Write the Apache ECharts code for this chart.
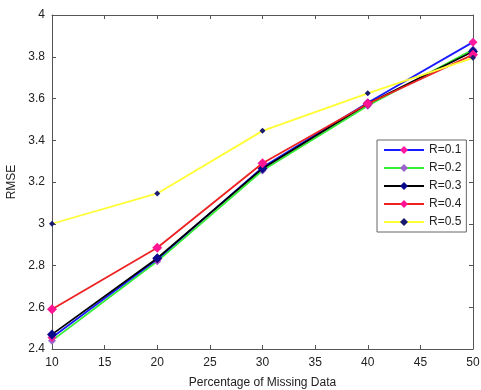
<!doctype html>
<html>
<head>
<meta charset="utf-8">
<title>RMSE vs missing data</title>
<style>
  html, body { margin: 0; padding: 0; background: #fff; }
  #main { width: 481px; height: 390px; }
</style>
</head>
<body>
<div id="main"></div>
<script src="https://cdn.jsdelivr.net/npm/echarts@6/dist/echarts.min.js"></script>
<script>
var missing = [10, 20, 30, 40, 50];
var r01 = [2.455, 2.83, 3.27, 3.58, 3.87];
var r02 = [2.44, 2.82, 3.255, 3.565, 3.835];
var r03 = [2.47, 2.835, 3.265, 3.575, 3.825];
var r04 = [2.59, 2.885, 3.29, 3.575, 3.81];
var r05 = [3.0, 3.145, 3.445, 3.625, 3.795];

var names = ['R=0.1', 'R=0.2', 'R=0.3', 'R=0.4', 'R=0.5'];
var values = [r01, r02, r03, r04, r05];
var lineColors = ['#1a1aff', '#33ee33', '#000000', '#ee2222', '#ffff33'];
var markColors = ['#ff1aa0', '#9a66cc', '#0a0a8a', '#ff1493', '#1a1a70'];
var markSizes = [9, 8, 10, 10, 6];

var chart = echarts.init(document.getElementById('main'));

var axisGray = '#555';
var font = 'Liberation Sans, Arial, sans-serif';

function pairs(ys) {
    return missing.map(function (x, i) { return [x, ys[i]]; });
}

var series = names.map(function (name, i) {
    return {
        name: name,
        type: 'line',
        data: pairs(values[i]),
        symbol: 'diamond',
        symbolSize: markSizes[i],
        lineStyle: { color: lineColors[i], width: 1.8 },
        itemStyle: { color: markColors[i], borderColor: markColors[i], borderWidth: 0 },
        emphasis: { disabled: true },
        z: 2 + i
    };
});
series[0].z = 3;
series[1].z = 2;

var xCommon = {
    type: 'value', min: 10, max: 50, interval: 5,
    axisLine: { lineStyle: { color: axisGray, width: 1 } },
    axisTick: { inside: true, length: 4, lineStyle: { color: axisGray } },
    splitLine: { show: false }
};
var yCommon = {
    type: 'value', min: 2.4, max: 4, interval: 0.2,
    axisLine: { show: true, lineStyle: { color: axisGray, width: 1 } },
    axisTick: { show: true, inside: true, length: 4, lineStyle: { color: axisGray } },
    splitLine: { show: false }
};

chart.setOption({
    backgroundColor: '#fff',
    animation: false,
    textStyle: { fontFamily: font },
    grid: { left: 52, right: 8, top: 15, bottom: 41, outerBoundsMode: 'none', containLabel: false },
    legend: {
        orient: 'vertical',
        left: 377,
        top: 140,
        itemWidth: 40,
        itemHeight: 10,
        itemGap: 6,
        padding: [4, 5, 4, 6],
        borderColor: '#666',
        borderWidth: 1,
        backgroundColor: '#fff',
        textStyle: { fontSize: 12, color: '#222', fontFamily: font },
        data: names
    },
    xAxis: [
        Object.assign({}, xCommon, {
            position: 'bottom',
            name: 'Percentage of Missing Data',
            nameLocation: 'middle',
            nameGap: 28,
            nameTextStyle: { fontSize: 12, color: '#222', fontFamily: font },
            axisLabel: { fontSize: 12, color: '#222', margin: 8, fontFamily: font }
        }),
        Object.assign({}, xCommon, {
            position: 'top',
            axisLabel: { show: false }
        })
    ],
    yAxis: [
        Object.assign({}, yCommon, {
            position: 'left',
            name: 'RMSE',
            nameLocation: 'middle',
            nameGap: 34,
            nameTextStyle: { fontSize: 12, color: '#222', fontFamily: font },
            axisLabel: { fontSize: 12, color: '#222', margin: 7, fontFamily: font }
        }),
        Object.assign({}, yCommon, {
            position: 'right',
            axisLabel: { show: false }
        })
    ],
    series: series
});

window.addEventListener('resize', function () {
    chart.resize();
});
</script>
</body>
</html>
